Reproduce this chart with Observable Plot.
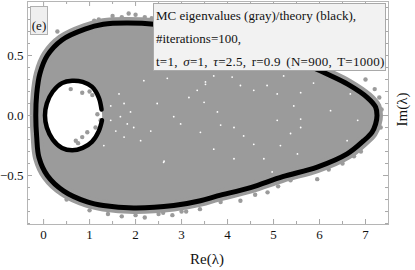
<!DOCTYPE html>
<html><head><meta charset="utf-8">
<script src="https://cdn.jsdelivr.net/npm/d3@7"></script>
<script src="https://cdn.jsdelivr.net/npm/@observablehq/plot@0.6"></script>
<style>
body{margin:0;background:#fff;}
#wrap{position:relative;width:415px;height:270px;overflow:hidden;font-family:"Liberation Serif","DejaVu Serif",serif;color:#111;}
.ov{position:absolute;white-space:nowrap;}
#wrap svg text{font-family:"Liberation Serif","DejaVu Serif",serif !important;}
</style></head><body><div id="wrap"></div>
<script>
// Theory curve (outer boundary), closed loop
const outerX = [7.25, 7.22, 7.04, 6.62, 6.2, 5.85, 5.2, 4.5, 3.8, 3.0, 2.4, 1.8, 1.3, 0.9, 0.4, 0.08, -0.08, -0.15, -0.17, -0.15, -0.1, 0.08, 0.44, 0.95, 1.3, 1.96, 2.83, 3.41, 3.78, 4.5, 5.2, 5.95, 6.6, 6.96, 7.14, 7.22];
const outerY = [0, 0.07, 0.15, 0.26, 0.34, 0.40, 0.50, 0.59, 0.66, 0.72, 0.76, 0.77, 0.76, 0.72, 0.63, 0.50, 0.35, 0.18, 0, -0.18, -0.35, -0.50, -0.63, -0.72, -0.75, -0.77, -0.75, -0.71, -0.67, -0.60, -0.51, -0.43, -0.32, -0.21, -0.14, -0.07];
// Theory curve (inner hole), open at right
const innerX = [1.26, 1.2, 1.05, 0.85, 0.62, 0.4, 0.2, 0.07, 0.03, 0.07, 0.2, 0.4, 0.62, 0.85, 1.05, 1.2, 1.27];
const innerY = [0.05, 0.15, 0.24, 0.28, 0.29, 0.27, 0.2, 0.1, 0.0, -0.1, -0.2, -0.27, -0.29, -0.27, -0.22, -0.13, -0.04];
// MC eigenvalues outside the theory boundary (fringe)
const fringeX = [1.2, 1.5, 1.7, 2.0, 2.2, 2.35, 1.85, 1.0, 1.4, 1.7, 2.0, 2.2, 2.5, 2.8, 3.1, 3.4, 3.85, 4.28, 4.87, 5.37, 5.95, 7.35, 7.33, 7.3, 7.2, 7.0, 6.9, 6.5, 0.5, 0.3, 1.1, 2.6, 3.0, 4.6, 5.1, 6.2, 6.75];
const fringeY = [0.80, 0.83, 0.82, 0.84, 0.82, 0.81, 0.85, -0.79, -0.82, -0.84, -0.83, -0.85, -0.82, -0.83, -0.80, -0.78, -0.72, -0.71, -0.64, -0.54, -0.53, 0.05, -0.1, 0.15, 0.22, 0.3, -0.3, -0.4, -0.7, 0.7, 0.79, -0.81, -0.80, -0.66, -0.59, -0.45, -0.34];
// MC eigenvalues inside the inner hole
const holeX = [0.59, 0.84, 1.06, 1.17, 0.84, 0.95, 0.7, 1.13, 1.24, 0.75, 1.0];
const holeY = [0.22, 0.19, 0.17, 0.01, -0.18, -0.14, -0.21, -0.1, -0.04, -0.23, 0.2];
// gaps (white specks) in the eigenvalue cloud
const gapX = [1.46, 1.64, 1.75, 1.89, 1.67, 1.82, 1.96, 2.18, 2.47, 2.69, 2.83, 2.98, 3.16, 3.34, 3.41, 3.52, 2.33, 1.75, 2.11, 2.62, 1.46, 1.57, 1.31, 3.52, 3.70, 4.10, 4.28, 4.57, 4.86, 5.08, 5.22, 5.59, 3.49, 3.78, 4.14, 4.35, 4.57, 5.15, 5.44, 5.08, 5.59, 5.37, 3.85, 4.79, 4.14, 3.70, 4.97, 5.52, 5.87, 6.67, 5.59, 6.6, 6.24, 6.83, 2.61];
const gapY = [0.08, 0.18, 0.10, 0.03, -0.01, -0.07, -0.10, 0.29, 0.10, 0.31, -0.01, -0.07, 0.15, 0.21, -0.14, 0.26, -0.13, -0.18, -0.21, -0.38, -0.04, -0.13, -0.25, 0.28, 0.33, 0.32, 0.25, 0.21, 0.25, 0.18, 0.33, 0.19, 0.11, 0.03, -0.10, -0.17, -0.24, -0.25, 0.08, -0.04, -0.03, -0.15, -0.08, -0.36, -0.36, -0.28, -0.47, -0.32, 0.27, 0.18, -0.1, -0.21, 0.04, -0.04, -0.39];
const xTicks = [0, 1, 2, 3, 4, 5, 6, 7];
const yTicks = [-0.5, 0.0, 0.5];
const xTickLabels = ["0", "1", "2", "3", "4", "5", "6", "7"];
const yTickLabels = ["\u22120.5", "0.0", "0.5"];

const outer = outerX.map((x, i) => ({x, y: outerY[i]}));
const inner = innerX.map((x, i) => ({x, y: innerY[i]}));
const fringe = fringeX.map((x, i) => ({x, y: fringeY[i]}));
const hole = holeX.map((x, i) => ({x, y: holeY[i]}));
const gaps = gapX.map((x, i) => ({x, y: gapY[i]}));

const xDom = [-0.35, 7.5], yDom = [-0.908, 0.95];
const W = 415, H = 270, mL = 27, mR = 27, mT = 1, mB = 46;
const pxX = (xDom[1] - xDom[0]) / (W - mL - mR);
const pxY = (yDom[1] - yDom[0]) / (H - mT - mB);
const xMinor = d3.range(-0.0, 7.51, 0.5).filter(v => !xTicks.includes(v));
const yMinor = d3.range(-0.9, 0.95, 0.1).map(v => Math.round(v * 10) / 10).filter(v => !yTicks.includes(v));
const gray = "#9b9b9b", tickC = "#a8a8a8";
const serif = '"Liberation Serif","DejaVu Serif",serif';
const xt = (vals, len) => [
  Plot.ruleX(vals, {x: d => d, y1: yDom[0], y2: yDom[0] + len * pxY, stroke: tickC}),
  Plot.ruleX(vals, {x: d => d, y1: yDom[1], y2: yDom[1] - len * pxY, stroke: tickC})];
const yt = (vals, len) => [
  Plot.ruleY(vals, {y: d => d, x1: xDom[0], x2: xDom[0] + len * pxX, stroke: tickC}),
  Plot.ruleY(vals, {y: d => d, x1: xDom[1], x2: xDom[1] - len * pxX, stroke: tickC})];

const chart = Plot.plot({
  width: W, height: H, marginLeft: mL, marginRight: mR, marginTop: mT, marginBottom: mB,
  x: {domain: xDom}, y: {domain: yDom},
  style: `font-family: ${serif}; font-size: 13px; color: #111; background: white;`,
  marks: [
    Plot.line(outer, {x: "x", y: "y", curve: "catmull-rom-closed", fill: gray, stroke: gray, strokeWidth: 12}),
    Plot.dot(fringe, {x: "x", y: "y", r: 2.2, fill: gray}),
    Plot.line(inner, {x: "x", y: "y", curve: "catmull-rom-closed", fill: "white", stroke: "none"}),
    Plot.dot(hole, {x: "x", y: "y", r: 2.2, fill: gray}),
    Plot.dot(gaps, {x: "x", y: "y", r: 0.9, fill: "white"}),
    Plot.line(outer, {x: "x", y: "y", curve: "catmull-rom-closed", stroke: "black", strokeWidth: 5}),
    Plot.line(inner, {x: "x", y: "y", curve: "catmull-rom", stroke: "black", strokeWidth: 4.5}),
    ...xt(xTicks, 5), ...xt(xMinor, 3), ...yt(yTicks, 5), ...yt(yMinor, 3),
    Plot.frame({stroke: "#b5b5b5"}),
    Plot.axisX(xTicks, {tickSize: 0, tickPadding: 5, tickFormat: (d, i) => xTickLabels[i], label: null, fontSize: 13, fontFamily: serif}),
    Plot.axisY(yTicks, {tickSize: 0, tickPadding: 4, tickFormat: (d, i) => yTickLabels[i], label: null, fontSize: 13, fontFamily: serif})
  ]
});
const wrap = document.getElementById("wrap");
chart.style.position = "absolute"; chart.style.left = "0"; chart.style.top = "0";
wrap.appendChild(chart);

function ov(html, css) { const d = document.createElement("div"); d.className = "ov"; d.innerHTML = html; Object.assign(d.style, css); wrap.appendChild(d); return d; }
ov("(e)", {left: "30px", top: "6px", width: "18px", height: "29px", background: "#efefef", border: "1px solid #b0b0b0", fontSize: "13px", lineHeight: "38px", textAlign: "center", boxSizing: "border-box", overflow: "hidden"});
ov("MC eigenvalues (gray)/theory (black),<br>#iterations=100,<br><span style='word-spacing:2px;letter-spacing:0.25px'>t=1, <i>σ</i>=1, <i>τ</i>=2.5, r=0.9 (N=900, T=1000)</span>",
  {left: "153px", top: "3px", width: "233px", height: "68px", background: "#f2f2f2", border: "1px solid #a9a9a9", fontSize: "13px", lineHeight: "23px", padding: "0 0 0 2px", boxSizing: "border-box"});
ov("Re(λ)", {left: "190px", top: "251px", fontSize: "15px"});
ov("Im(λ)", {left: "382px", top: "101px", fontSize: "15px", transform: "rotate(-90deg)", transformOrigin: "center center", width: "40px", textAlign: "center"});
</script></body></html>
